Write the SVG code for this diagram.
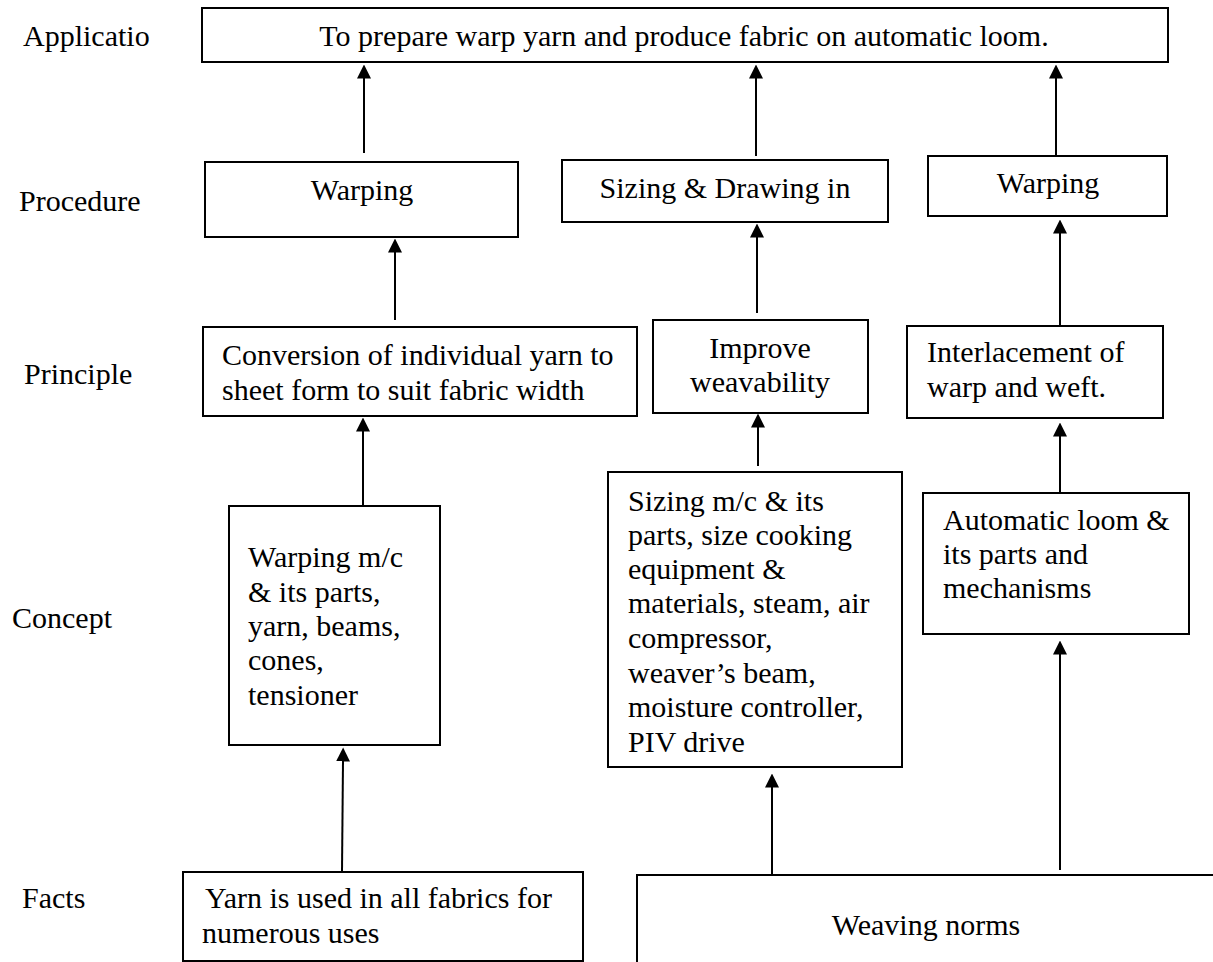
<svg xmlns="http://www.w3.org/2000/svg" width="1213" height="962" viewBox="0 0 1213 962">
  <style>
    text { font-family: "Liberation Serif", "Times New Roman", serif; font-size: 30px; fill: #000; }
    .mid { text-anchor: middle; }
    .box { fill: #fff; stroke: #000; stroke-width: 2; }
    .link { stroke: #000; stroke-width: 2; fill: none; marker-end: url(#head); }
  </style>
  <defs>
    <marker id="head" viewBox="0 0 14 14" refX="0.5" refY="7" markerWidth="14" markerHeight="14" markerUnits="userSpaceOnUse" orient="auto">
      <path d="M0,0 L14,7 L0,14 z" fill="#000"/>
    </marker>
  </defs>
  <rect width="1213" height="962" fill="#fff"/>

  <!-- row labels -->
  <g id="row-labels">
    <text x="23" y="46">Applicatio</text>
    <text x="19" y="211">Procedure</text>
    <text x="24" y="384">Principle</text>
    <text x="12" y="628">Concept</text>
    <text x="22" y="908">Facts</text>
  </g>

  <!-- connectors -->
  <g id="connectors">
    <line class="link" x1="364" y1="153" x2="364" y2="78"/>
    <line class="link" x1="756" y1="156" x2="756" y2="78"/>
    <line class="link" x1="1056" y1="155" x2="1056" y2="78"/>
    <line class="link" x1="395" y1="320" x2="395" y2="252"/>
    <line class="link" x1="757" y1="313" x2="757" y2="237"/>
    <line class="link" x1="1060" y1="326" x2="1060" y2="233"/>
    <line class="link" x1="363" y1="505" x2="363" y2="431"/>
    <line class="link" x1="758" y1="466" x2="758" y2="427"/>
    <line class="link" x1="1060" y1="493" x2="1060" y2="436"/>
    <line class="link" x1="342" y1="872" x2="343" y2="761"/>
    <line class="link" x1="772" y1="875" x2="772" y2="787"/>
    <line class="link" x1="1060" y1="870" x2="1060" y2="654"/>
  </g>

  <!-- application -->
  <g id="application">
    <rect class="box" x="202" y="8" width="966" height="54"/>
    <text class="mid" x="684" y="46">To prepare warp yarn and produce fabric on automatic loom.</text>
  </g>

  <!-- procedures -->
  <g id="procedure-warping">
    <rect class="box" x="205" y="162" width="313" height="75"/>
    <text class="mid" x="362" y="200">Warping</text>
  </g>
  <g id="procedure-sizing">
    <rect class="box" x="562" y="160" width="326" height="62"/>
    <text class="mid" x="725" y="198">Sizing &amp; Drawing in</text>
  </g>
  <g id="procedure-weaving">
    <rect class="box" x="928" y="156" width="239" height="60"/>
    <text class="mid" x="1048" y="193">Warping</text>
  </g>

  <!-- principles -->
  <g id="principle-conversion">
    <rect class="box" x="203" y="327" width="434" height="89"/>
    <text x="222" y="365">Conversion of individual yarn to</text>
    <text x="222" y="400">sheet form to suit fabric width</text>
  </g>
  <g id="principle-weavability">
    <rect class="box" x="653" y="320" width="215" height="93"/>
    <text class="mid" x="760" y="358">Improve</text>
    <text class="mid" x="760" y="392">weavability</text>
  </g>
  <g id="principle-interlacement">
    <rect class="box" x="907" y="326" width="256" height="92"/>
    <text x="927" y="362">Interlacement of</text>
    <text x="927" y="397">warp and weft.</text>
  </g>

  <!-- concepts -->
  <g id="concept-warping">
    <rect class="box" x="229" y="506" width="211" height="239"/>
    <text x="248" y="567">Warping m/c</text>
    <text x="248" y="602">&amp; its parts,</text>
    <text x="248" y="636">yarn, beams,</text>
    <text x="248" y="670">cones,</text>
    <text x="248" y="705">tensioner</text>
  </g>
  <g id="concept-sizing">
    <rect class="box" x="608" y="472" width="294" height="295"/>
    <text x="628" y="511">Sizing m/c &amp; its</text>
    <text x="628" y="545">parts, size cooking</text>
    <text x="628" y="579">equipment &amp;</text>
    <text x="628" y="613">materials, steam, air</text>
    <text x="628" y="648">compressor,</text>
    <text x="628" y="683">weaver’s beam,</text>
    <text x="628" y="717">moisture controller,</text>
    <text x="628" y="752">PIV drive</text>
  </g>
  <g id="concept-loom">
    <rect class="box" x="923" y="493" width="266" height="141"/>
    <text x="943" y="530">Automatic loom &amp;</text>
    <text x="943" y="564">its parts and</text>
    <text x="943" y="598">mechanisms</text>
  </g>

  <!-- facts -->
  <g id="fact-yarn">
    <rect class="box" x="183" y="872" width="400" height="89"/>
    <text x="205" y="908"> Yarn is used in all fabrics for</text>
    <text x="202" y="943">numerous uses</text>
  </g>
  <g id="fact-weaving">
    <path d="M637,962 V875 H1213" fill="none" stroke="#000" stroke-width="2"/>
    <text class="mid" x="926" y="935">Weaving norms</text>
  </g>
</svg>
